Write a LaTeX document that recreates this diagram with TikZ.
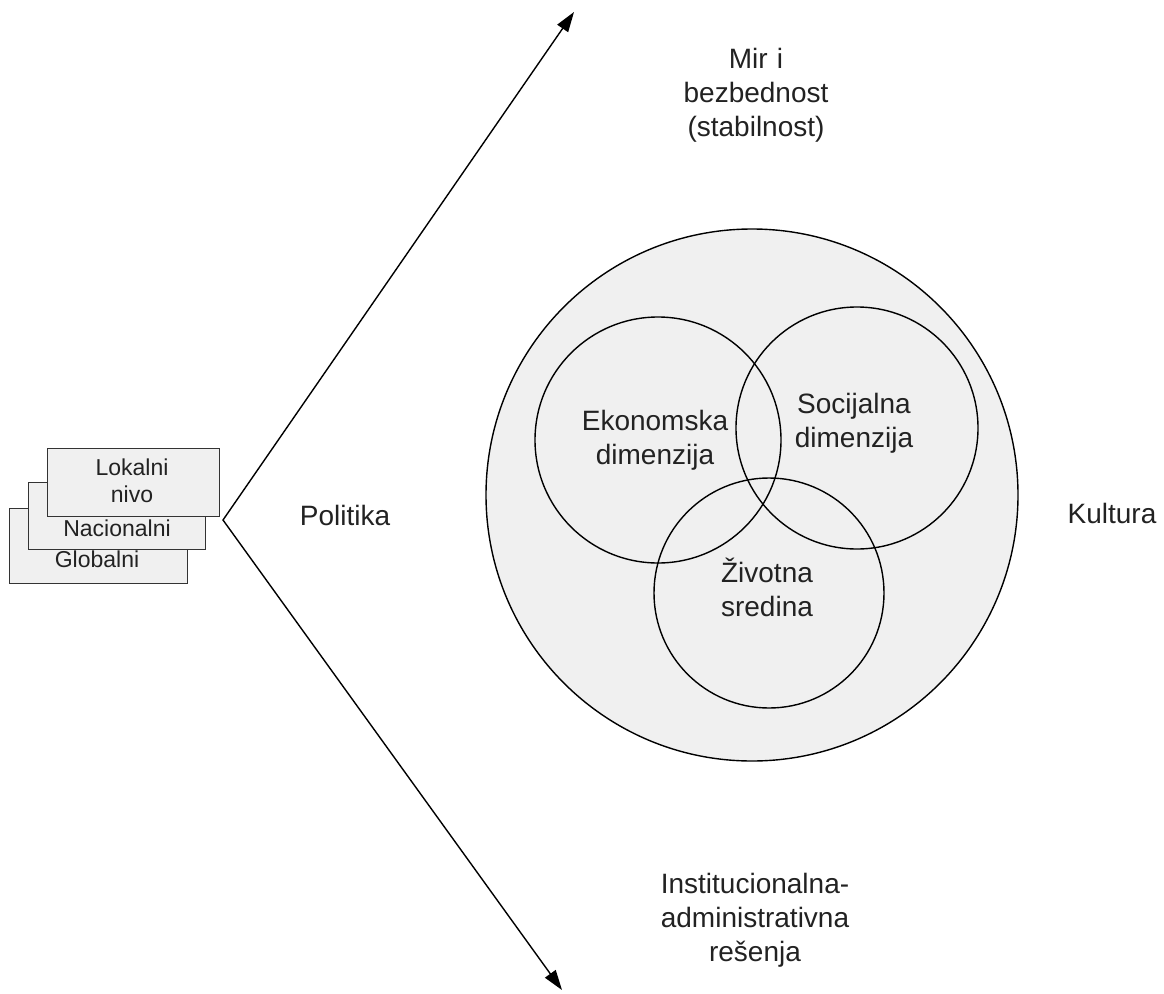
\documentclass[tikz,border=0pt]{standalone}
\usepackage{fontspec}
\setmainfont{Liberation Sans}
\usetikzlibrary{arrows.meta}
\definecolor{lgray}{HTML}{F0F0F0}
\definecolor{boxline}{HTML}{333333}
\definecolor{txt}{HTML}{222222}
\begin{document}
\begin{tikzpicture}[x=1pt,y=-1pt,
  lbl/.style={font=\fontsize{28}{34}\selectfont, text=txt, inner sep=0pt, anchor=base, align=center, text width=300pt},
  small/.style={font=\fontsize{23}{27}\selectfont, text=txt, inner sep=0pt, anchor=base, align=center, text width=180pt},
  ring/.style={circle, draw=black, line width=1.4pt, inner sep=0pt},
  level/.style={rectangle, draw=boxline, fill=lgray, line width=1.3pt, inner sep=0pt, anchor=north west},
  arr/.style={draw=black, line width=1.4pt, line join=miter, {Triangle[length=20pt,width=13pt]}-{Triangle[length=20pt,width=13pt]}}]
\useasboundingbox (0,0) rectangle (1164,993);

% stacked level boxes
\node[level, minimum width=178pt, minimum height=75pt] (glob) at (9,508) {};
\node[level, minimum width=177pt, minimum height=67pt] (nac) at (28,482) {};
\node[level, minimum width=172pt, minimum height=68pt] (lok) at (47,448) {};
\node[small] (tglob) at (97,567) {Globalni};
\node[small] (tnac) at (117,536) {Nacionalni};
\node[small] (tlok) at (132,475) {Lokalni\\nivo};

% arrows
\coordinate (v) at (223,520);
\coordinate (mirtip) at (574,12);
\coordinate (insttip) at (562,990);
\draw[arr] (mirtip) -- (v) -- (insttip);

% circles
\node[ring, fill=lgray, minimum size=532pt] (kult) at (752,495) {};
\node[ring, minimum size=246pt] (eko) at (658,440) {};
\node[ring, minimum size=242pt] (soc) at (857,428) {};
\node[ring, minimum size=230pt] (ziv) at (769,593) {};

% labels
\node[lbl] (teko) at (655,430) {Ekonomska\\dimenzija};
\node[lbl] (tsoc) at (854,413) {Socijalna\\dimenzija};
\node[lbl] (tziv) at (767,582) {Životna\\sredina};
\node[lbl] (tpol) at (345,525) {Politika};
\node[lbl] (tkul) at (1112,523) {Kultura};
\node[lbl] (tmir) at (756,68) {Mir i\\bezbednost\\(stabilnost)};
\node[lbl] (tinst) at (755,893) {Institucionalna-\\administrativna\\rešenja};
\end{tikzpicture}
\end{document}
